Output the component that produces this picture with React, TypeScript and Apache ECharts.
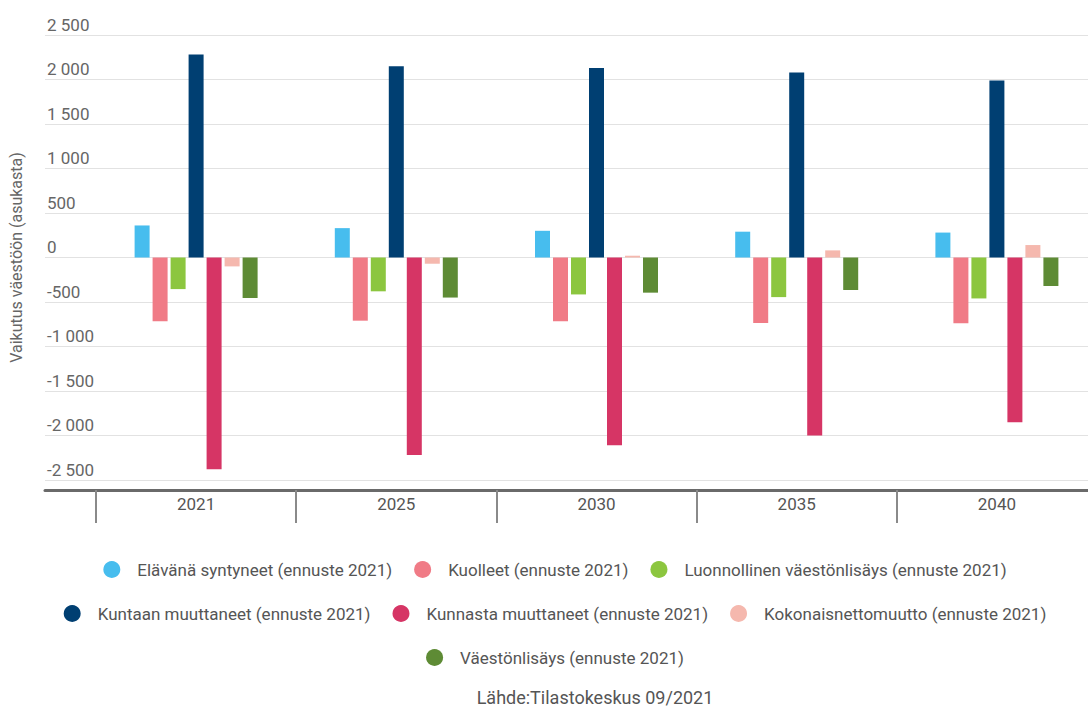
import React, { useEffect, useRef } from "react";
import * as echarts from "echarts";

const years = ["2021", "2025", "2030", "2035", "2040"];

const seriesNames = [
  "Elävänä syntyneet (ennuste 2021)",
  "Kuolleet (ennuste 2021)",
  "Luonnollinen väestönlisäys (ennuste 2021)",
  "Kuntaan muuttaneet (ennuste 2021)",
  "Kunnasta muuttaneet (ennuste 2021)",
  "Kokonaisnettomuutto (ennuste 2021)",
  "Väestönlisäys (ennuste 2021)",
];

const births = [360, 330, 300, 290, 280];
const deaths = [-715, -710, -715, -735, -740];
const naturalIncrease = [-355, -380, -415, -445, -460];
const movedIn = [2280, 2150, 2130, 2080, 1990];
const movedOut = [-2380, -2220, -2110, -2000, -1850];
const netMigration = [-100, -70, 20, 80, 140];
const populationIncrease = [-455, -450, -395, -365, -320];

const seriesValues = [
  births,
  deaths,
  naturalIncrease,
  movedIn,
  movedOut,
  netMigration,
  populationIncrease,
];

const colors = [
  "#47bdee",
  "#f07b86",
  "#8cc63f",
  "#003f72",
  "#d63565",
  "#f5b8ae",
  "#5e8b35",
];

const yTicks = { min: -2500, max: 2500, interval: 500 };

const FONT = "Roboto, 'Noto Sans', sans-serif";

const fmt = (v: number) =>
  String(v).replace(/\B(?=(\d{3})+(?!\d))/g, " ");

const legendRow = (names: string[], top: number) => ({
  data: names,
  top,
  left: "center",
  orient: "horizontal" as const,
  icon: "circle",
  itemWidth: 17,
  itemHeight: 17,
  itemGap: 22,
  padding: 0,
  selectedMode: false,
  textStyle: {
    fontFamily: FONT,
    fontSize: 17,
    color: "#555",
    padding: [0, 0, 0, 12],
  },
});

export default function App() {
  const ref = useRef<HTMLDivElement>(null);

  useEffect(() => {
    if (!ref.current) return;
    const chart = echarts.init(ref.current, undefined, { renderer: "svg" });
    const chartWidth = 1110;
    const gridRight = chartWidth - 1097;

    chart.setOption({
      animation: false,
      backgroundColor: "#ffffff",
      color: colors,
      textStyle: { fontFamily: FONT },
      grid: [
        { left: 38, right: gridRight, top: 35, height: 445 },
        { left: 96, right: gridRight, top: 35, height: 445 },
      ],
      legend: [
        legendRow(seriesNames.slice(0, 3), 561),
        legendRow(seriesNames.slice(3, 6), 605),
        legendRow(seriesNames.slice(6), 649),
      ],
      xAxis: [
        {
          gridIndex: 0,
          type: "category",
          data: [""],
          offset: 10,
          axisLine: {
            show: true,
            onZero: false,
            lineStyle: { color: "#6a6a6a", width: 3 },
          },
          axisTick: { show: false },
          axisLabel: { show: false },
          splitLine: { show: false },
        },
        {
          gridIndex: 1,
          type: "category",
          data: years,
          offset: 10,
          axisLine: { show: false, onZero: false },
          axisTick: {
            show: true,
            length: 33,
            lineStyle: { color: "#8a8a8a", width: 2 },
          },
          axisLabel: {
            fontFamily: FONT,
            fontSize: 17,
            color: "#555",
            margin: 5,
          },
          splitLine: { show: false },
        },
      ],
      yAxis: [
        {
          gridIndex: 0,
          type: "value",
          ...yTicks,
          name: "Vaikutus väestöön (asukasta)",
          nameLocation: "middle",
          nameGap: 21,
          nameTextStyle: { fontFamily: FONT, fontSize: 16, color: "#666" },
          axisLine: { show: false },
          axisTick: { show: false },
          axisLabel: {
            inside: true,
            margin: 2,
            align: "left",
            verticalAlign: "bottom",
            padding: [0, 0, 2, 0],
            fontFamily: FONT,
            fontSize: 17,
            color: "#666",
            formatter: (v: number) => fmt(v),
          },
          splitLine: { lineStyle: { color: "#e2e2e2", width: 1 } },
        },
        {
          gridIndex: 1,
          type: "value",
          ...yTicks,
          show: false,
          splitLine: { show: false },
        },
      ],
      series: seriesNames.map((name, i) => ({
        name,
        type: "bar",
        xAxisIndex: 1,
        yAxisIndex: 1,
        data: seriesValues[i],
        barWidth: 15,
        barGap: "20%",
        itemStyle: { color: colors[i] },
      })),
      graphic: [
        {
          type: "text",
          x: 595,
          y: 697,
          style: {
            text: "Lähde:Tilastokeskus 09/2021",
            fontFamily: FONT,
            fontSize: 18,
            fill: "#555",
            align: "center",
            verticalAlign: "middle",
          },
        },
      ],
    });

    return () => chart.dispose();
  }, []);

  return (
    <div
      style={{
        position: "fixed",
        left: 0,
        top: 0,
        width: 1088,
        height: 708,
        overflow: "hidden",
        background: "#ffffff",
      }}
    >
      <div ref={ref} style={{ width: 1110, height: 708 }} />
    </div>
  );
}
